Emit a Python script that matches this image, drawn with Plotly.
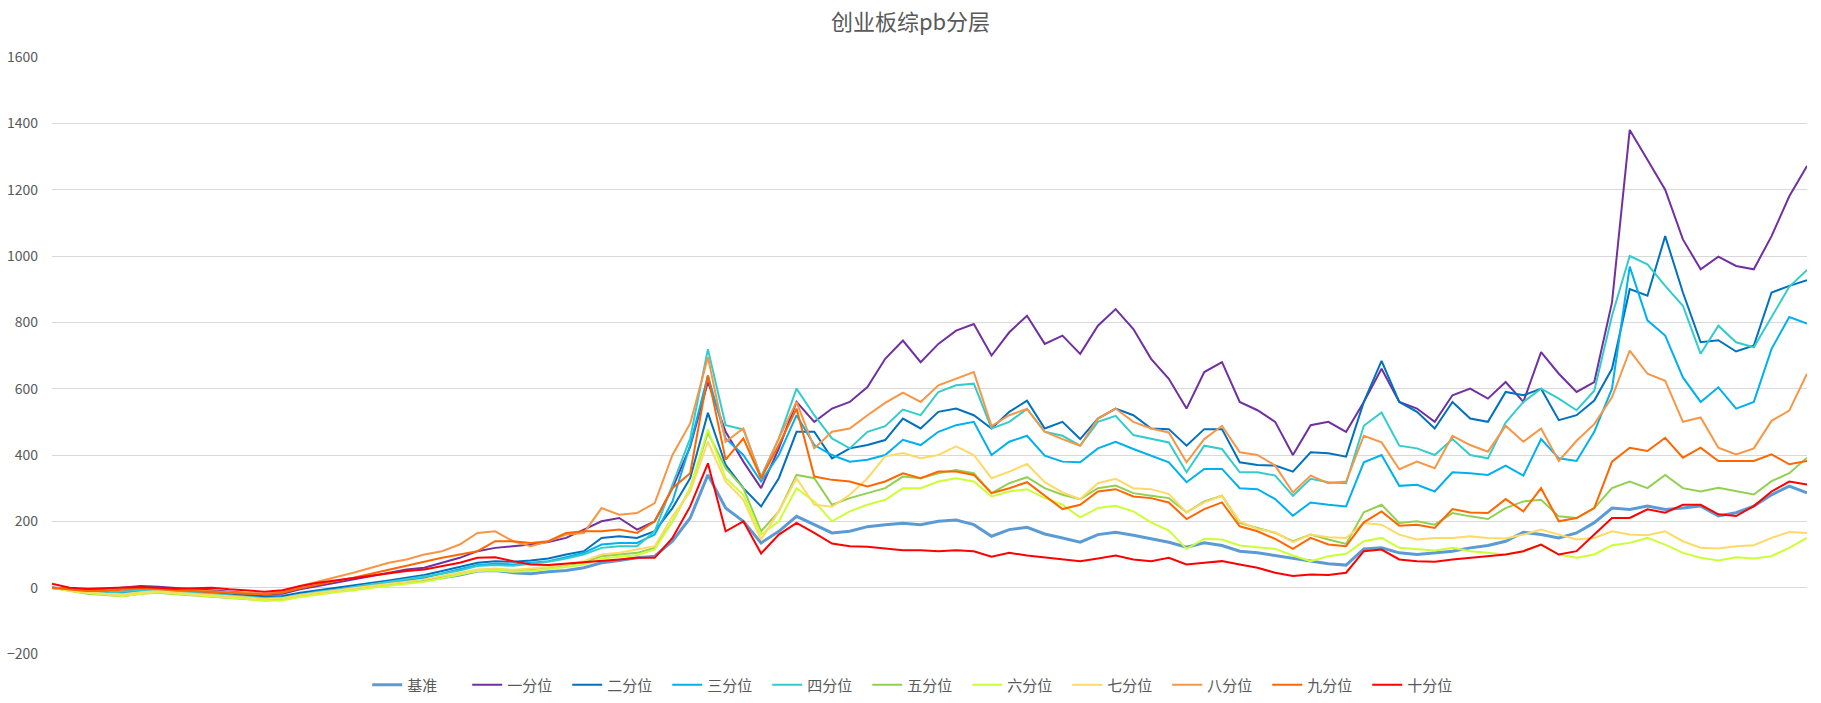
import plotly.graph_objects as go

names = ["基准", "一分位", "二分位", "三分位", "四分位", "五分位", "六分位", "七分位", "八分位", "九分位", "十分位"]
colors = ["#5b9bd5", "#7030a0", "#0070c0", "#00b0f0", "#33cccc", "#92d050", "#ccff33", "#ffd966", "#f79646", "#ff6600", "#ff0000"]
widths = [3, 2, 2, 2, 2, 2, 2, 2, 2, 2, 2]

base = [0, -5, -12, -15, -18, -12, -8, -10, -14, -16, -20, -24, -28, -30, -20, -12, -5, 0, 5, 10,
        15, 22, 30, 38, 50, 52, 45, 42, 48, 52, 60, 75, 82, 90, 95, 140, 210, 340, 240, 200,
        135, 170, 215, 190, 165, 170, 184, 190, 194, 190, 200, 204, 190, 155, 175, 182, 162, 150, 137, 160,
        167, 158, 147, 137, 122, 135, 127, 110, 105, 97, 87, 80, 72, 68, 117, 120, 105, 100, 105, 110,
        120, 127, 140, 167, 160, 150, 165, 196, 240, 236, 246, 236, 240, 246, 216, 226, 246, 280, 306, 286]
q1 = [0, -3, -8, -5, 0, 5, 3, -2, -5, -8, -12, -15, -20, -18, -5, 5, 15, 25, 35, 45,
      55, 60, 75, 90, 110, 120, 125, 130, 138, 150, 175, 200, 210, 175, 200, 300, 425, 620, 470, 380,
      300, 420, 560, 500, 540, 560, 605, 690, 745, 680, 735, 775, 795, 700, 770, 820, 735, 760, 705, 790,
      840, 780, 690, 630, 540, 650, 680, 560, 535, 500, 400, 490, 500, 470, 560, 660, 560, 540, 500, 580,
      600, 570, 620, 560, 710, 645, 590, 620, 860, 1380, 1290, 1200, 1050, 960, 998, 970, 960, 1060, 1180, 1271]
q2 = [0, -5, -10, -8, -2, 3, 0, -5, -10, -12, -18, -22, -26, -25, -15, -8, 0, 8, 15, 22,
      30, 38, 50, 62, 75, 80, 78, 82, 88, 100, 110, 150, 155, 150, 170, 240, 330, 527, 370, 300,
      245, 330, 470, 470, 390, 420, 430, 445, 510, 480, 530, 540, 520, 480, 530, 564, 480, 500, 448, 510,
      540, 520, 480, 478, 428, 478, 478, 378, 370, 368, 350, 408, 405, 395, 560, 684, 560, 530, 480, 560,
      510, 500, 590, 580, 600, 505, 520, 564, 660, 900, 880, 1060, 890, 740, 746, 712, 730, 890, 910, 927]
q3 = [0, -8, -15, -18, -12, -8, -10, -14, -16, -20, -25, -30, -35, -32, -22, -15, -8, 0, 8, 15,
      22, 30, 42, 55, 68, 72, 70, 75, 80, 92, 105, 130, 135, 135, 160, 260, 430, 640, 450, 400,
      320, 400, 520, 430, 400, 380, 386, 400, 446, 430, 470, 490, 500, 400, 440, 458, 398, 380, 378, 420,
      440, 418, 398, 378, 318, 358, 358, 300, 297, 267, 217, 257, 250, 245, 378, 400, 307, 310, 290, 348,
      345, 340, 368, 338, 448, 390, 382, 470, 600, 968, 806, 760, 634, 560, 604, 540, 560, 720, 816, 796]
q4 = [0, -8, -14, -16, -12, -6, -8, -12, -15, -18, -24, -28, -32, -30, -20, -12, -6, 2, 10, 16,
      24, 32, 42, 52, 65, 68, 66, 72, 78, 88, 100, 120, 125, 125, 170, 310, 450, 719, 490, 477,
      335, 450, 600, 520, 450, 420, 470, 487, 537, 520, 590, 610, 615, 480, 500, 539, 470, 458, 428, 500,
      518, 460, 448, 438, 348, 428, 418, 348, 348, 338, 277, 328, 318, 315, 488, 528, 428, 420, 400, 448,
      400, 390, 498, 560, 600, 570, 535, 594, 820, 1000, 975, 910, 850, 705, 790, 740, 725, 816, 907, 958]
q5 = [0, -10, -18, -22, -26, -18, -15, -20, -24, -26, -30, -34, -38, -36, -26, -18, -12, -5, 2, 8,
      14, 20, 30, 40, 52, 55, 52, 55, 60, 68, 75, 95, 100, 105, 120, 200, 300, 467, 360, 300,
      170, 230, 340, 330, 250, 270, 285, 300, 335, 330, 345, 355, 345, 285, 315, 333, 300, 280, 267, 300,
      308, 285, 277, 270, 227, 260, 277, 195, 180, 165, 140, 160, 145, 132, 227, 250, 195, 200, 190, 225,
      215, 207, 240, 260, 265, 215, 210, 240, 300, 320, 300, 340, 300, 290, 301, 291, 281, 321, 345, 392]
q6 = [0, -10, -16, -20, -25, -18, -14, -18, -22, -25, -30, -34, -40, -38, -28, -20, -14, -8, 0, 6,
      12, 18, 28, 38, 50, 52, 48, 50, 55, 62, 70, 88, 93, 98, 115, 200, 300, 477, 330, 280,
      160, 200, 300, 260, 200, 230, 250, 265, 300, 300, 320, 330, 320, 275, 290, 297, 270, 250, 212, 240,
      247, 230, 197, 172, 117, 147, 145, 127, 122, 117, 97, 80, 95, 102, 140, 150, 120, 115, 112, 120,
      110, 105, 100, 110, 130, 100, 90, 100, 128, 135, 150, 130, 105, 90, 82, 92, 88, 95, 120, 150]
q7 = [0, -8, -14, -18, -20, -14, -10, -15, -18, -22, -26, -30, -34, -32, -22, -15, -8, 0, 6, 12,
      18, 25, 35, 45, 55, 58, 54, 58, 62, 70, 80, 100, 105, 115, 125, 215, 290, 440, 320, 265,
      145, 230, 330, 250, 244, 280, 330, 396, 406, 390, 400, 426, 400, 330, 350, 373, 318, 287, 267, 315,
      328, 300, 297, 282, 227, 257, 277, 200, 177, 167, 137, 160, 152, 150, 195, 190, 160, 145, 150, 150,
      155, 150, 148, 160, 175, 160, 145, 150, 170, 160, 158, 170, 140, 120, 118, 125, 128, 150, 168, 165]
q8 = [0, -5, -10, -8, -5, 0, -3, -6, -8, -10, -14, -16, -18, -12, 5, 18, 30, 45, 60, 75,
      85, 100, 110, 130, 165, 170, 140, 125, 140, 160, 165, 240, 220, 225, 255, 400, 495, 695, 440, 480,
      330, 450, 560, 420, 470, 480, 520, 557, 588, 560, 610, 630, 650, 487, 520, 539, 470, 448, 428, 510,
      540, 500, 480, 468, 378, 448, 488, 408, 400, 368, 287, 338, 315, 320, 458, 438, 357, 380, 360, 458,
      430, 410, 488, 440, 480, 382, 443, 493, 574, 715, 645, 624, 500, 513, 422, 402, 420, 503, 534, 645]
q9 = [0, -6, -10, -10, -6, -2, -5, -8, -10, -12, -16, -18, -20, -15, -2, 10, 20, 30, 42, 55,
      65, 78, 90, 100, 110, 140, 140, 135, 140, 165, 170, 170, 175, 165, 200, 300, 345, 640, 386, 450,
      330, 430, 540, 335, 325, 320, 305, 320, 345, 330, 350, 350, 340, 285, 300, 318, 277, 237, 250, 290,
      297, 275, 270, 257, 207, 237, 257, 185, 170, 147, 117, 150, 130, 125, 197, 230, 187, 190, 180, 237,
      227, 225, 267, 230, 300, 200, 210, 240, 380, 422, 412, 452, 392, 422, 382, 382, 382, 402, 372, 382]
q10 = [12, 0, -3, -2, 0, 2, 0, -3, -2, 0, -5, -8, -12, -8, 5, 15, 22, 30, 35, 42,
       50, 55, 65, 75, 90, 92, 80, 70, 68, 72, 75, 80, 85, 90, 90, 150, 245, 375, 170, 200,
       103, 160, 195, 165, 133, 125, 123, 118, 113, 113, 110, 113, 110, 93, 105, 97, 91, 86, 80, 88,
       97, 85, 80, 90, 70, 75, 80, 70, 60, 45, 35, 40, 38, 45, 110, 115, 85, 80, 78, 85,
       90, 95, 100, 110, 130, 100, 110, 160, 210, 210, 236, 226, 250, 250, 221, 216, 246, 290, 320, 311]

series = [base, q1, q2, q3, q4, q5, q6, q7, q8, q9, q10]
x = list(range(len(base)))

font_family = "Noto Sans CJK SC, Noto Sans, sans-serif"
fig = go.Figure()
for name, color, w, ys in zip(names, colors, widths, series):
    fig.add_trace(go.Scatter(x=x, y=ys, mode="lines", name=name,
                             line=dict(color=color, width=w)))

fig.update_layout(
    width=1821, height=703,
    paper_bgcolor="white", plot_bgcolor="white",
    margin=dict(l=52, r=14, t=57, b=49, autoexpand=False),
    font=dict(family=font_family, color="#595959", size=14),
    title=dict(text="创业板综pb分层", x=0.5, xref="container", y=1 - 22 / 703,
               yref="container", yanchor="middle", xanchor="center",
               font=dict(size=22, color="#595959", family=font_family)),
    showlegend=True,
    legend=dict(orientation="h", x=0.493, xanchor="center",
                yref="container", y=1 - 685 / 703, yanchor="middle",
                entrywidth=55, entrywidthmode="pixels",
                font=dict(size=15, color="#595959", family=font_family),
                bgcolor="rgba(0,0,0,0)"),
    xaxis=dict(range=[0, len(base) - 1], showgrid=False, zeroline=False, showticklabels=False,
               showline=False, ticks=""),
    yaxis=dict(range=[-200, 1600], dtick=200, showgrid=True, gridcolor="#d9d9d9", gridwidth=1,
               zeroline=False, showline=False, ticks="", ticklabelstandoff=13,
               tickfont=dict(size=14, color="#595959", family=font_family)),
)

fig.write_html("out.html")
